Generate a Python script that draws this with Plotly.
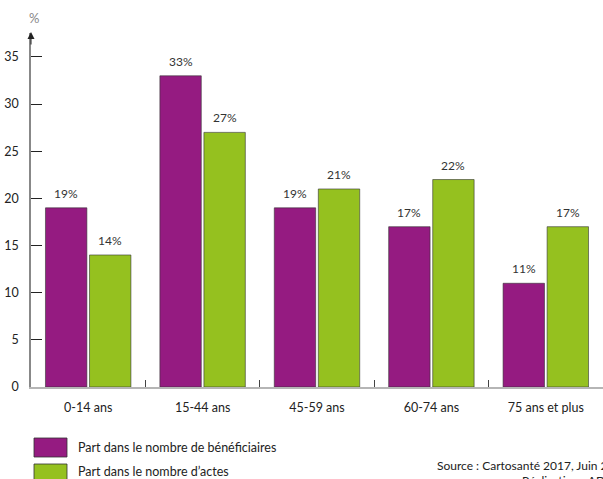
import plotly.graph_objects as go

# Age groups and shares (%)
categories = ["0-14 ans", "15-44 ans", "45-59 ans", "60-74 ans", "75 ans et plus"]
beneficiaires = [19, 33, 19, 17, 11]
actes = [14, 27, 21, 22, 17]

series_names = ["Part dans le nombre de bénéficiaires", "Part dans le nombre d’actes"]
y_ticks = [0, 5, 10, 15, 20, 25, 30, 35]

PURPLE = "#951B81"
GREEN = "#95C11F"
FONT = "Lato"

W, H = 603, 479
ML, MR, MT, MB = 31, 0, 33, 92
PW, PH = W - ML - MR, H - MT - MB


def px_x(px):
    return (px - ML) / PW


def px_y(py):
    return (H - MB - py) / PH


fig = go.Figure()
for name, vals, col in [(series_names[0], beneficiaires, PURPLE),
                        (series_names[1], actes, GREEN)]:
    fig.add_trace(go.Bar(
        x=categories, y=vals, name=name,
        marker=dict(color=col, line=dict(color="rgba(50,50,50,0.75)", width=0.8)),
        showlegend=False,
    ))

bargap = 0.23
slot = PW / len(categories) * (1 - bargap) / 2

annotations = []
for i, cat in enumerate(categories):
    for vals, shift in [(beneficiaires, -slot / 2), (actes, slot / 2)]:
        annotations.append(dict(
            x=cat, y=vals[i], xref="x", yref="y", text=f"{vals[i]}%",
            showarrow=False, xshift=shift, yshift=5, yanchor="bottom",
            font=dict(family=FONT, size=12, color="#333333"),
        ))

# axis arrow and unit
annotations.append(dict(
    x=0, y=px_y(32), xref="paper", yref="paper", text="", showarrow=True,
    ax=0, ay=14, axref="pixel", ayref="pixel",
    arrowhead=2, arrowsize=1.4, arrowwidth=1, arrowcolor="#222222",
))
annotations.append(dict(
    x=px_x(34), y=px_y(18), xref="paper", yref="paper", text="%",
    showarrow=False, xanchor="center", yanchor="middle",
    font=dict(family=FONT, size=13, color="#888888"),
))

# legend
legend_rows = [(series_names[0], PURPLE, 438, 457, 448),
               (series_names[1], GREEN, 464, 483, 471)]
shapes = []
for name, col, y0, y1, yc in legend_rows:
    shapes.append(dict(
        type="rect", xref="paper", yref="paper",
        x0=px_x(34), x1=px_x(67), y0=px_y(y1), y1=px_y(y0),
        fillcolor=col, line=dict(color="rgba(50,50,50,0.8)", width=1),
    ))
    annotations.append(dict(
        x=px_x(76), y=px_y(yc), xref="paper", yref="paper", text=name,
        showarrow=False, xanchor="left", yanchor="middle",
        font=dict(family=FONT, size=12.5, color="#222222"),
    ))

# source
annotations.append(dict(
    x=px_x(435), y=px_y(465), xref="paper", yref="paper",
    text="Source : Cartosanté 2017, Juin 2018",
    showarrow=False, xanchor="left", yanchor="middle",
    font=dict(family=FONT, size=12, color="#222222"),
))
annotations.append(dict(
    x=px_x(520), y=px_y(481), xref="paper", yref="paper",
    text="Réalisation : ADU Agence d'urbanisme",
    showarrow=False, xanchor="left", yanchor="middle",
    font=dict(family=FONT, size=12, color="#222222"),
))

fig.update_layout(
    width=W, height=H,
    margin=dict(l=ML, r=MR, t=MT, b=MB, pad=0),
    paper_bgcolor="white", plot_bgcolor="white",
    barmode="group", bargap=bargap, bargroupgap=0.06,
    font=dict(family=FONT, size=12, color="#222222"),
    annotations=annotations, shapes=shapes,
    xaxis=dict(
        type="category", showline=True, linecolor="#b5b5b5", linewidth=1.5,
        ticks="inside", tickson="boundaries", ticklen=7, tickcolor="#444444",
        tickwidth=1, showgrid=False, zeroline=False, ticklabelstandoff=8,
        tickfont=dict(family=FONT, size=12.5, color="#222222"),
        range=[-0.5, len(categories) - 0.5],
    ),
    yaxis=dict(
        range=[0, 37.54], tickvals=y_ticks, showline=True, linecolor="#888888",
        linewidth=1.5, ticks="inside", ticklen=11, tickcolor="#222222",
        tickwidth=1, showgrid=False, zeroline=False, ticklabelstandoff=8,
        tickfont=dict(family=FONT, size=12.5, color="#222222"),
    ),
)

fig.write_html("out.html")
